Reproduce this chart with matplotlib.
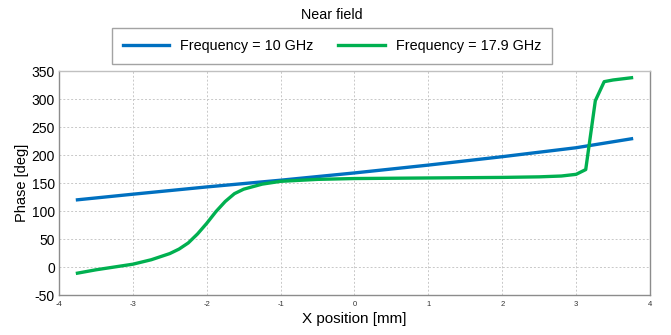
import matplotlib.pyplot as plt

plt.rcParams["font.family"] = ["Liberation Sans", "DejaVu Sans"]
plt.rcParams["axes.unicode_minus"] = False

# 10 GHz
x_10 = [-3.75, -3.0, -2.0, -1.0, 0.0, 1.0, 2.0, 3.0, 3.75]
phase_10 = [120, 130, 143, 155, 168, 182, 197, 213, 229]

# 17.9 GHz
x_179 = [-3.75, -3.5, -3.25, -3.0, -2.75, -2.5, -2.375, -2.25, -2.125, -2.0,
         -1.875, -1.75, -1.625, -1.5, -1.25, -1.0, -0.5, 0.0, 1.0, 2.0,
         2.5, 2.8, 3.0, 3.13, 3.26, 3.38, 3.5, 3.75]
phase_179 = [-11, -5, 0, 5, 13, 24, 32, 43, 59, 78,
             99, 117, 131, 139, 148, 153, 156.5, 158, 159, 160,
             161, 162.5, 165.5, 174, 297, 331, 334, 338]

labels = ["Frequency = 10 GHz", "Frequency = 17.9 GHz"]
colors = ["#0070C0", "#00B050"]

fig = plt.figure(figsize=(6.71, 3.35), dpi=100)
ax = fig.add_axes([0.0879, 0.1194, 0.8808, 0.6686])

ax.plot(x_10, phase_10, color=colors[0], lw=2.4, label=labels[0])
ax.plot(x_179, phase_179, color=colors[1], lw=2.4, label=labels[1])

ax.set_xlim(-4, 4)
ax.set_ylim(-50, 350)
ax.set_xticks(range(-4, 5))
ax.set_yticks(range(-50, 351, 50))
ax.grid(True, color="#c8c8c8", linestyle=(0, (2, 2)), linewidth=0.7)
ax.tick_params(axis="x", labelsize=5.5, length=0, pad=4, labelcolor="#333333")
ax.tick_params(axis="y", labelsize=10, length=0, pad=3)
for s in ax.spines.values():
    s.set_color("#8c8c8c")
    s.set_linewidth(1.0)
ax.spines["top"].set_color("#c0c0c0")

ax.set_xlabel("X position [mm]", fontsize=11, labelpad=3)
ax.set_ylabel("Phase [deg]", fontsize=10.5, labelpad=2)

fig.text(0.495, 0.955, "Near field", ha="center", va="center", fontsize=10.3)
leg = fig.legend(loc="center", bbox_to_anchor=(0.495, 0.862), ncol=2,
                 fontsize=10.4, handlelength=3.2, columnspacing=1.7,
                 frameon=True, fancybox=False, edgecolor="#8c8c8c",
                 borderpad=0.75, handletextpad=0.8)
leg.get_frame().set_linewidth(1.0)

fig.savefig("out.png", dpi=100)
